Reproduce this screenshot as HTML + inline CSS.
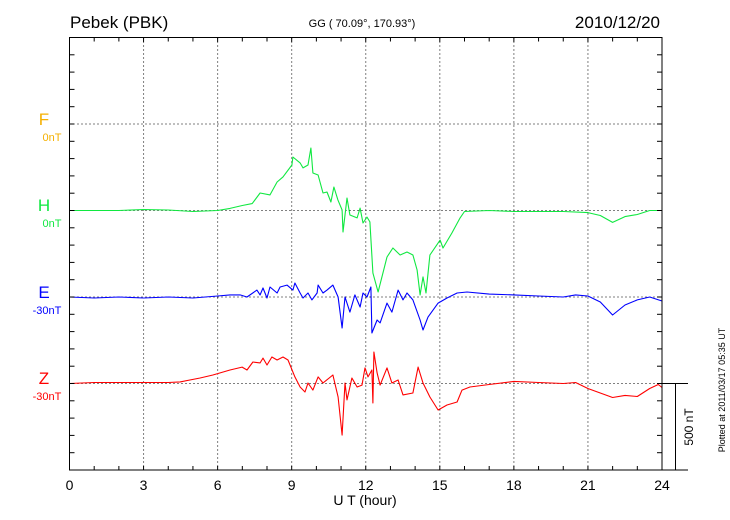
<!DOCTYPE html>
<html><head><meta charset="utf-8"><style>
body{margin:0;background:#fff;}
svg{display:block;font-family:"Liberation Sans",sans-serif;}
</style></head><body>
<svg id="chart" width="730" height="520" viewBox="0 0 730 520">
<text x="70" y="28" font-size="17">Pebek (PBK)</text>
<text x="362" y="27" font-size="11" text-anchor="middle">GG ( 70.09°, 170.93°)</text>
<text x="660" y="28" font-size="17" text-anchor="end">2010/12/20</text>
<g id="grid"></g>
<g id="series"></g>
<rect x="69.5" y="37.5" width="592.5" height="432.5" fill="none" stroke="#000" stroke-width="1"/>
<g id="ticks"></g>
<text x="44" y="125" font-size="17" fill="#f5b000" text-anchor="middle">F</text>
<text x="52" y="141" font-size="11" fill="#f5b000" text-anchor="middle">0nT</text>
<text x="44" y="211" font-size="17" fill="#10e840" text-anchor="middle">H</text>
<text x="52" y="227" font-size="11" fill="#10e840" text-anchor="middle">0nT</text>
<text x="44" y="298" font-size="17" fill="#0000ff" text-anchor="middle">E</text>
<text x="47" y="314" font-size="11" fill="#0000ff" text-anchor="middle">-30nT</text>
<text x="44" y="384" font-size="17" fill="#ff0000" text-anchor="middle">Z</text>
<text x="47" y="400" font-size="11" fill="#ff0000" text-anchor="middle">-30nT</text>
<text x="365" y="505" font-size="14" text-anchor="middle">U T (hour)</text>
<line x1="662" y1="383.5" x2="688" y2="383.5" stroke="#000"/>
<line x1="662" y1="470" x2="688" y2="470" stroke="#000"/>
<line x1="675.5" y1="383.5" x2="675.5" y2="470" stroke="#000"/>
<text transform="translate(693,427) rotate(-90)" font-size="12" text-anchor="middle">500 nT</text>
<text transform="translate(725,390) rotate(-90)" font-size="9" text-anchor="middle">Plotted at 2011/03/17 05:35 UT</text>
</svg>
<script>
const xTicks = [0,3,6,9,12,15,18,21,24];
const hHours = [0,1,2,3,4,5,6,6.5,7,7.4,7.72,8.12,8.41,8.65,9.01,9.05,9.34,9.46,9.66,9.78,9.86,10.07,10.27,10.43,10.59,10.71,10.87,11.04,11.08,11.24,11.36,11.65,11.77,11.89,12.05,12.17,12.29,12.5,12.86,13.1,13.39,13.67,13.91,14.08,14.2,14.32,14.44,14.6,15.01,15.13,15.49,15.82,16,17,18,19,20,21,21.5,22,22.5,23,23.5,24];
const hValues = [0,0,0,6,3,-6,0,12,29,40,101,90,165,194,263,309,275,246,263,361,217,205,101,107,49,136,61,3,-124,72,-26,-43,14,-72,-38,-66,-361,-471,-269,-217,-257,-240,-257,-344,-488,-384,-477,-257,-171,-217,-130,-43,-6,0,-6,-6,-6,-12,-29,-69,-35,-23,0,0];
const eHours = [0,1,2,3,4,5,6,6.5,6.91,7.19,7.59,7.72,7.84,8.0,8.12,8.41,8.53,8.81,9.05,9.13,9.34,9.46,9.66,9.82,10.03,10.07,10.27,10.43,10.67,10.88,11.04,11.16,11.36,11.56,11.77,11.89,12.05,12.21,12.25,12.46,12.58,12.86,13.06,13.31,13.51,13.67,13.91,14.2,14.32,14.52,14.93,15.29,15.7,16.1,17,18,19,20,20.5,21,21.5,22,22.5,23,23.5,24];
const eValues = [0,-6,0,-6,0,-6,6,12,12,0,40,12,52,-6,58,23,58,69,40,81,23,-6,23,-17,23,69,23,40,69,0,-179,0,-87,12,-58,23,0,58,-208,-133,-150,-35,-87,40,-17,23,-17,-133,-191,-116,-35,-6,23,29,17,12,6,0,12,6,-29,-104,-46,-17,0,-23];
const zHours = [0,1,2,3,4,4.48,5.29,5.81,6.5,6.99,7.19,7.43,7.72,7.84,8.0,8.2,8.41,8.65,8.85,9.13,9.34,9.54,9.66,9.86,10.07,10.27,10.67,10.88,11.04,11.16,11.24,11.44,11.65,11.85,11.97,12.09,12.25,12.29,12.33,12.46,12.58,12.86,13.06,13.31,13.51,13.91,14.12,14.32,14.6,14.93,15.29,15.7,15.9,16.22,17,18,19,20,20.5,21,22,22.5,23,23.5,23.85,24];
const zValues = [0,6,6,6,6,9,32,49,78,95,78,124,119,147,107,153,136,153,136,38,-20,-49,3,-38,38,3,49,-78,-298,3,-95,32,-20,-9,90,38,78,-113,182,61,-9,90,3,20,-66,-55,95,3,-78,-153,-124,-107,-38,-20,-6,12,6,0,6,-29,-81,-69,-75,-29,-6,-23];

const NS='http://www.w3.org/2000/svg';
const X0=69.5, X1=662, Y0=37.5, Y1=470;
const pxPerNT = 86.5/500;
const baseH=210.5, baseE=297, baseZ=383.5;
function xs(h){return X0+(X1-X0)*h/24;}
function ys(v,base){return base - v*pxPerNT;}
function mk(tag,attrs,parent){const e=document.createElementNS(NS,tag);for(const k in attrs)e.setAttribute(k,attrs[k]);parent.appendChild(e);return e;}
const grid=document.getElementById('grid'), ticks=document.getElementById('ticks'), ser=document.getElementById('series'), svg=document.getElementById('chart');
[124,baseH,baseE,baseZ].forEach(y=>{
 const l=mk('line',{x1:X0,x2:X1,y1:y,y2:y,stroke:'#000','stroke-width':1,'stroke-dasharray':'1,3'},grid);
 
 
});
xTicks.slice(1,-1).forEach(h=>{
 const l=mk('line',{x1:xs(h),x2:xs(h),y1:Y0,y2:Y1,stroke:'#000','stroke-width':1,'stroke-dasharray':'1,3'},grid);
 
 
});
for(let h=0;h<=24;h++){
 const x=xs(h);
 const t=mk('line',{x1:x,x2:x,y1:Y1,y2:Y1-4,stroke:'#000'},ticks);
 
 
 const t2=mk('line',{x1:x,x2:x,y1:Y0,y2:Y0+4,stroke:'#000'},ticks);
 
 
}
xTicks.forEach(h=>{
 const t=mk('text',{x:xs(h),y:490,'font-size':14,'text-anchor':'middle'},svg);
 t.textContent=h;
 
 
});
for(let y=baseZ+5*17.3; y>Y0; y-=17.3){
 const a=mk('line',{x1:X0,x2:X0+5,y1:y,y2:y,stroke:'#000'},ticks);
 
 
 const b=mk('line',{x1:X1,x2:X1-5,y1:y,y2:y,stroke:'#000'},ticks);
 
 
}
function drawSeries(hours,vals,base,color,name){
 const d=hours.map((h,i)=>(i?'L':'M')+xs(h).toFixed(1)+','+ys(vals[i],base).toFixed(1)).join(' ');
 const p=mk('path',{d:d,fill:'none',stroke:color,'stroke-width':1.1,'stroke-linejoin':'round'},ser);
 
 
}
drawSeries(hHours,hValues,baseH,'#10e840','h-series-line');
drawSeries(eHours,eValues,baseE,'#0000ff','e-series-line');
drawSeries(zHours,zValues,baseZ,'#ff0000','z-series-line');
</script>
</body></html>
